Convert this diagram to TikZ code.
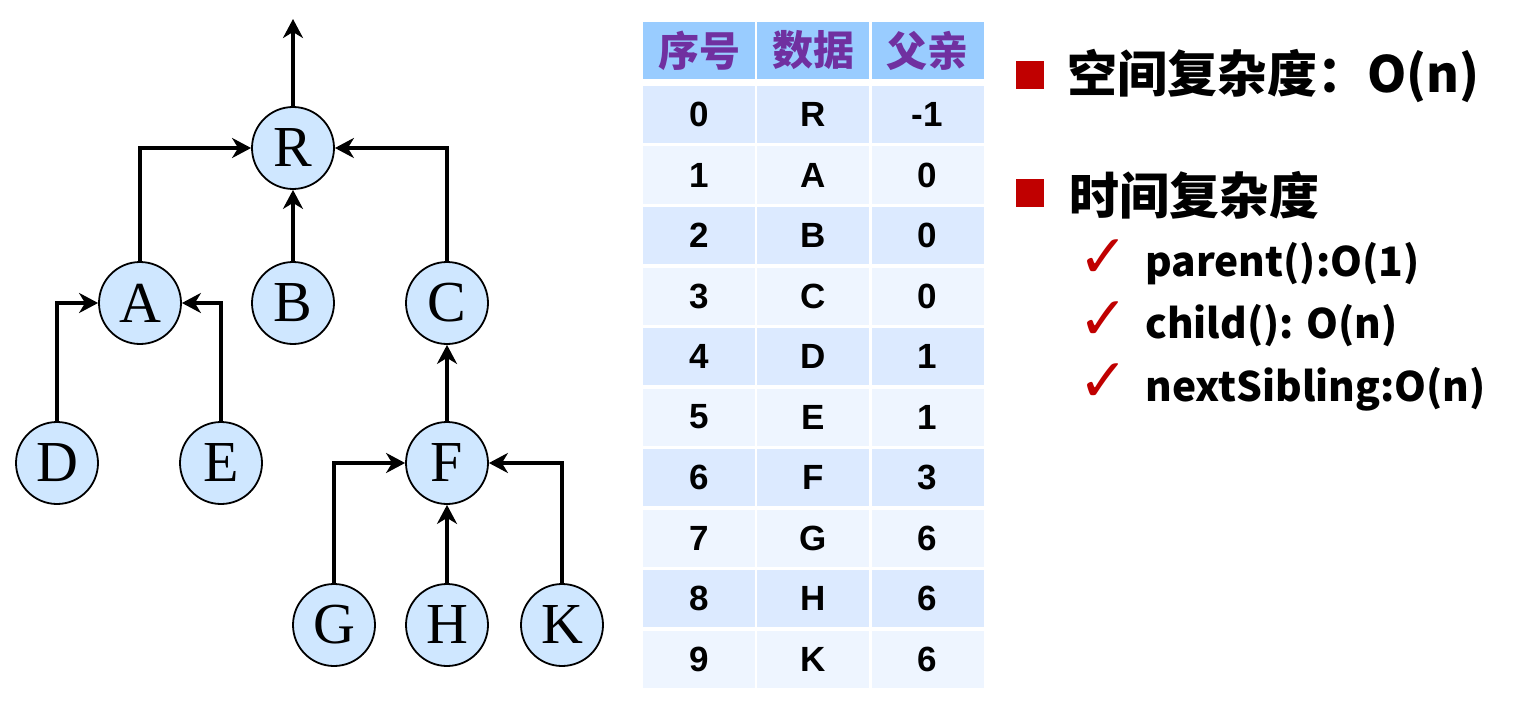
\documentclass[tikz,border=0pt]{standalone}
\usepackage{fontspec}
\usetikzlibrary{arrows.meta}
\newfontfamily\treefont{Liberation Serif}
\newfontfamily\tabfont{Liberation Sans}
\newfontfamily\cjkfont{Noto Sans CJK SC}
\newfontfamily\symfont{DejaVu Sans}
\definecolor{nodefill}{RGB}{207,231,255}
\definecolor{hdrfill}{RGB}{153,204,255}
\definecolor{rowA}{RGB}{220,234,255}
\definecolor{rowB}{RGB}{238,245,255}
\definecolor{hdrtext}{RGB}{112,48,160}
\definecolor{bulred}{RGB}{192,0,0}
\tikzset{
  tn/.style={circle,draw=black,line width=0.9pt,fill=nodefill,minimum size=41pt,inner sep=0pt,
    font=\treefont\fontsize{29}{30}\selectfont},
  arr/.style={line width=1.8pt,-{Stealth[length=9.5pt,width=10pt,inset=3pt]}},
  cell/.style={minimum width=56pt,minimum height=28.5pt,inner sep=0pt,
    font=\tabfont\bfseries\fontsize{17.5}{18}\selectfont},
  hcell/.style={cell,fill=hdrfill,text=hdrtext,font=\cjkfont\bfseries\fontsize{20.5}{21}\selectfont},
  bul/.style={fill=bulred,minimum size=14pt,inner sep=0pt},
  big/.style={anchor=west,inner sep=0pt,font=\cjkfont\bfseries\fontsize{25}{26}\selectfont},
  sub/.style={anchor=west,inner sep=0pt,font=\cjkfont\bfseries\fontsize{20.3}{21}\selectfont},
  chk/.style={inner sep=0pt,text=bulred,font=\symfont\fontsize{30}{31}\selectfont}
}
\begin{document}
\begin{tikzpicture}[x=0.5pt,y=-0.5pt]
\useasboundingbox (0,0) rectangle (1516,706);
% tree
\node[tn] (R) at (293,148) {R};
\node[tn] (A) at (140,303) {A};
\node[tn] (B) at (293,303) {B};
\node[tn] (C) at (447,303) {C};
\node[tn] (D) at (57,463) {D};
\node[tn] (E) at (221,463) {E};
\node[tn] (F) at (447,463) {F};
\node[tn] (G) at (334,625) {G};
\node[tn] (H) at (447,625) {H};
\node[tn] (K) at (562,625) {K};
\coordinate (top) at (293,19);
\draw[arr] (R.north) -- (top);
\draw[arr] (A.north) |- (R.west);
\draw[arr] (C.north) |- (R.east);
\draw[arr] (B.north) -- (R.south);
\draw[arr] (D.north) |- (A.west);
\draw[arr] (E.north) |- (A.east);
\draw[arr] (F.north) -- (C.south);
\draw[arr] (G.north) |- (F.west);
\draw[arr] (K.north) |- (F.east);
\draw[arr] (H.north) -- (F.south);
% table
\node[hcell] (h1) at (699,50.5) {序号};
\node[hcell] (h2) at (813,50.5) {数据};
\node[hcell] (h3) at (927.5,50.5) {父亲};
\foreach \i/\d/\p in {0/R/-1,1/A/0,2/B/0,3/C/0,4/D/1,5/E/1,6/F/3,7/G/6,8/H/6,9/K/6}{
  \ifodd\i\def\rc{rowB}\else\def\rc{rowA}\fi
  \pgfmathsetmacro\yc{114.5+60.5*\i}
  \node[cell,fill=\rc] (s\i) at (699,\yc) {\i};
  \node[cell,fill=\rc] (d\i) at (813,\yc) {\d};
  \node[cell,fill=\rc] (p\i) at (927.5,\yc) {\p};
}
% right text
\node[bul] (b1) at (1030,75) {};
\node[big] (t1) at (1067,76) {空间复杂度：O(n)};
\node[bul] (b2) at (1030,193) {};
\node[big] (t2) at (1069,195) {时间复杂度};
\node[chk] (k1) at (1104,259) {✓};
\node[sub] (s1) at (1145,264) {parent():O(1)};
\node[chk] (k2) at (1104,321) {✓};
\node[sub] (s2) at (1145,326) {child(): O(n)};
\node[chk] (k3) at (1104,383) {✓};
\node[sub] (s3) at (1145,389) {nextSibling:O(n)};
\end{tikzpicture}
\end{document}
